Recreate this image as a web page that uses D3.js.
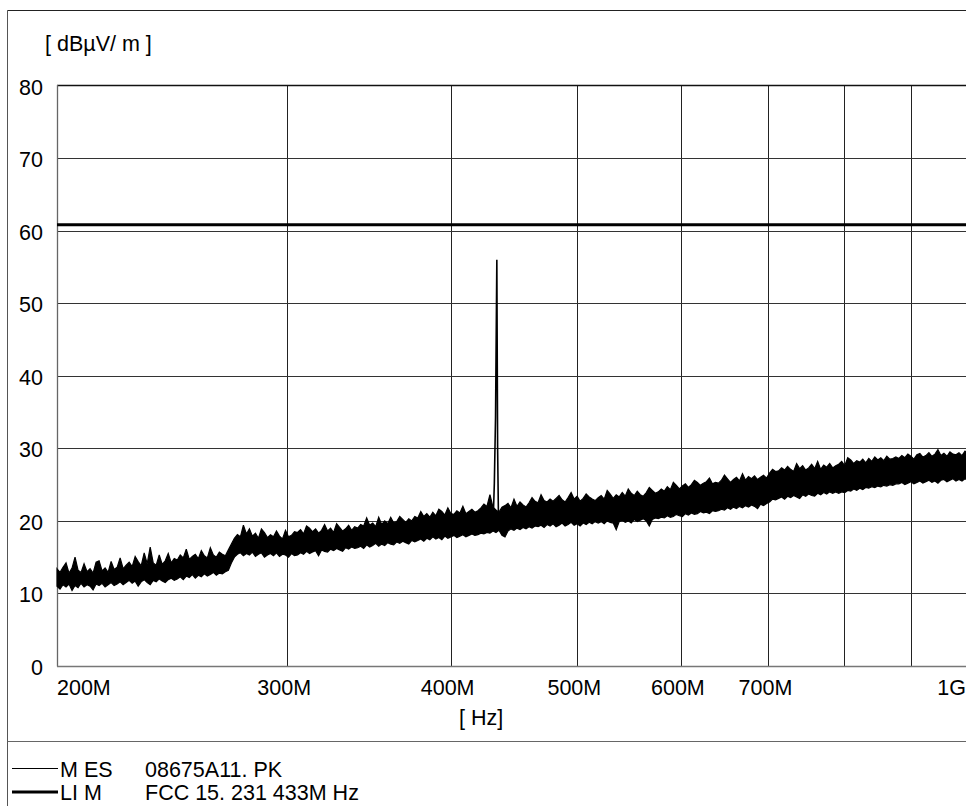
<!DOCTYPE html>
<html>
<head>
<meta charset="utf-8">
<script src="https://cdn.jsdelivr.net/npm/d3@7"></script>
<style>
  html, body { margin: 0; padding: 0; background: #fff; }
  svg { display: block; }
  text { font-family: "Liberation Sans", Arial, sans-serif; fill: #000; }
</style>
</head>
<body>
<svg id="chart" width="966" height="806"></svg>
<script>
// Sweep definition (Hz) and axis ticks
const sweepStart = 200e6;
const sweepStop = 1e9;
const xTickValues = [200e6, 300e6, 400e6, 500e6, 600e6, 700e6, 800e6, 900e6, 1e9];
const xTickLabels = ["200M", "300M", "400M", "500M", "600M", "700M", "", "", "1G"];
const yTickValues = [0, 10, 20, 30, 40, 50, 60, 70, 80];

// Peak detector trace, highest reading in each display bin (dBµV/m)
const mesMax = [
  13.4, 12.9, 13.6, 14.2, 12.8, 13.5, 15.0, 13.2, 12.9, 14.1, 13.0, 13.4, 12.8, 14.3, 14.5, 13.1, 13.5, 12.9, 14.4, 13.3,
  13.6, 14.9, 13.4, 13.9, 14.3, 13.7, 15.1, 14.4, 13.8, 15.6, 14.1, 16.4, 14.2, 13.9, 15.3, 14.0, 14.5, 15.5, 14.2, 14.8,
  14.6, 15.3, 14.9, 16.1, 14.7, 15.1, 15.4, 14.8, 15.9, 15.2, 14.9, 16.3, 15.3, 15.0, 15.7, 15.4, 15.2, 16.0, 16.8, 17.6,
  18.1, 17.8, 19.4, 18.2, 18.9, 17.9, 18.3, 17.6, 18.9, 18.4, 17.7, 18.1, 17.8, 18.6, 17.9, 17.5, 18.7, 17.8, 18.0, 18.5,
  18.4, 18.8, 18.2, 19.3, 19.0, 18.5, 18.9, 18.3, 18.7, 19.5, 18.6, 19.0, 18.4, 19.6, 19.1, 18.6, 18.9, 19.4, 18.7, 19.2,
  19.0, 19.5, 19.3, 20.4, 19.4, 19.7, 19.2, 20.5, 19.5, 20.0, 19.6, 20.5, 19.7, 19.9, 20.6, 20.2, 19.8, 20.3, 20.0, 20.6,
  20.4, 21.3, 20.6, 21.0, 20.5, 21.2, 20.7, 21.6, 21.3, 20.8, 21.8, 21.0, 20.9, 21.4, 21.1, 22.0, 21.0, 21.3, 21.6, 21.2,
  21.4, 21.8, 22.3, 22.0, 23.6, 21.9, 21.5, 21.2, 21.9, 22.1, 22.4, 21.8, 23.0, 22.0, 22.6, 22.2, 21.9, 22.5, 23.2, 22.7,
  22.5, 23.6, 22.8, 22.6, 23.0, 22.7, 23.1, 23.5, 22.9, 22.6, 23.2, 23.9, 23.0, 23.4, 22.7, 23.1, 23.7, 23.3, 23.0, 22.8,
  23.2, 23.5, 23.0, 24.2, 23.7, 23.1, 23.6, 23.3, 23.9, 23.4, 24.4, 23.8, 23.5, 24.1, 23.6, 23.4, 23.9, 24.6, 24.2, 23.8,
  24.0, 24.4, 24.1, 24.7, 24.3, 25.3, 24.9, 24.4, 24.8, 25.1, 24.6, 25.0, 25.6, 25.3, 24.9, 25.2, 25.4, 25.9, 25.1, 25.3,
  25.2, 25.6, 26.3, 25.8, 25.3, 25.7, 26.0, 25.5, 26.5, 25.6, 26.1, 25.8, 26.2, 25.7, 26.0, 26.3, 25.9, 26.6, 27.1, 26.8,
  26.9, 27.3, 27.0, 27.5, 27.1, 26.8, 27.9, 27.2, 27.6, 27.0, 27.3, 27.8, 27.2, 28.2, 27.1, 27.7, 27.4, 27.9, 27.3, 27.6,
  27.8, 28.2, 27.6, 28.7, 28.4, 27.9, 28.3, 28.1, 28.5, 28.0, 28.6, 28.2, 28.8, 28.4, 28.7, 28.3, 28.9, 28.5, 28.6, 28.8,
  28.6, 29.0, 28.7, 29.2, 28.9, 28.5, 29.1, 29.3, 28.8, 29.0, 29.4, 28.9, 29.2, 29.8, 29.0, 29.3, 28.9, 29.5, 29.2, 29.1,
  29.4, 29.0, 29.6, 29.2, 29.3
];

// Lowest reading in each display bin (dBµV/m)
const mesMin = [
  11.0, 10.6, 11.2, 10.9, 11.3, 10.4, 11.1, 10.8, 11.4, 10.9, 11.2, 11.0, 10.5, 11.3, 11.1, 11.4, 10.9, 11.2, 11.5, 11.1,
  11.3, 11.6, 11.2, 11.5, 11.8, 11.4, 11.7, 11.0, 11.6, 11.9, 11.5, 11.2, 11.8, 11.6, 12.0, 11.7, 11.5, 11.9, 12.1, 11.8,
  12.0, 12.3, 11.9, 12.4, 12.2, 12.6, 12.1, 12.5, 12.3, 12.7, 12.4, 12.6, 12.9, 12.5, 12.8, 12.7, 13.0, 13.2, 14.2, 15.0,
  15.4, 15.6, 15.2, 15.5, 15.3, 15.7, 15.1, 15.4, 15.6, 15.0, 15.3, 15.5, 15.2, 15.6, 15.1, 15.4, 15.3, 15.0, 15.5, 15.2,
  15.3, 15.6, 15.4, 15.8, 15.5, 15.7, 15.9, 15.2, 16.0, 15.8, 15.7, 16.1, 15.9, 16.2, 16.0, 15.8, 16.3, 16.1, 16.4, 16.2,
  16.3, 16.5, 16.2, 16.7, 16.4, 16.6, 16.9, 16.5, 16.8, 16.6, 17.0, 16.8, 16.7, 17.1, 16.9, 17.2, 17.0, 16.8, 17.3, 17.1,
  17.3, 17.5, 17.2, 17.6, 17.4, 17.8, 17.5, 17.7, 17.4, 17.9, 17.6, 17.8, 18.0, 17.7, 17.9, 18.1, 17.8, 18.0, 18.2, 18.0,
  18.1, 18.3, 18.2, 18.4, 18.3, 18.6, 18.4, 18.7, 18.0, 17.8, 18.6, 18.9, 18.7, 19.0, 18.8, 19.1, 18.9, 19.2, 19.0, 19.3,
  19.2, 19.4, 19.1, 19.5, 19.3, 19.6, 19.2, 19.4, 19.7, 19.3, 19.5, 19.8, 19.4, 19.6, 19.3, 19.7, 19.5, 19.8, 19.6, 19.9,
  19.7, 19.9, 19.6, 20.0, 19.8, 19.7, 18.8, 19.9, 20.1, 19.8, 20.0, 19.7, 20.2, 19.9, 20.1, 20.3, 20.0, 19.3, 20.2, 20.4,
  20.3, 20.5, 20.4, 20.7, 20.5, 20.6, 20.9, 20.7, 20.6, 21.0, 20.8, 21.1, 20.9, 21.0, 21.3, 21.1, 21.2, 21.0, 21.4, 21.3,
  21.4, 21.6, 21.5, 21.8, 21.6, 21.9, 21.7, 22.0, 21.8, 22.1, 21.9, 22.2, 22.0, 21.7, 22.3, 22.1, 22.4, 22.6, 23.0, 22.9,
  23.1, 23.3, 23.0, 23.4, 23.2, 23.5, 23.3, 23.1, 23.6, 23.4, 23.7, 23.5, 23.4, 23.8, 23.6, 23.9, 23.7, 24.0, 23.8, 24.0,
  23.8, 24.0, 23.9, 24.2, 24.1, 24.4, 24.2, 24.5, 24.3, 24.6, 24.5, 24.7, 24.6, 24.8, 24.7, 24.9, 24.8, 25.0, 24.9, 25.1,
  25.1, 25.3, 25.0, 25.2, 25.4, 25.1, 25.3, 25.5, 25.2, 25.4, 25.6, 25.3, 25.5, 25.2, 25.6, 25.7, 25.4, 25.6, 25.8, 25.5,
  25.7, 25.5, 25.8, 25.6, 25.9
];

// Readings around the 433.92 MHz carrier (MHz, dBµV/m)
const carrierFreqsMHz = [431.2, 432.0, 432.9, 433.9, 434.5, 435.2];
const carrierLevels = [20.5, 25.2, 34.2, 56.0, 30.0, 19.6];

// FCC 15.231 limit for spurious emissions (dBµV/m)
const limitLevel = 60.8;

// Legend rows
const legendNames = ["M ES", "LI M"];
const legendDescs = ["08675A11. PK", "FCC 15. 231 433M Hz"];

const svg = d3.select("#chart");
const plot = { left: 57, right: 971, top: 85.5, bottom: 666 };
const fontSize = 21.5;

const x = d3.scaleLog().domain([sweepStart, sweepStop]).range([plot.left, plot.right]);
const y = d3.scaleLinear().domain([0, 80]).range([plot.bottom, plot.top]);

// Display bins are spaced logarithmically between start and stop
const n = mesMax.length;
const bins = mesMax.map((v, i) => ({
  f: sweepStart * Math.pow(sweepStop / sweepStart, i / (n - 1)),
  hi: v,
  lo: mesMin[i]
}));
const carrier = carrierFreqsMHz.map((f, i) => ({ f: f * 1e6, v: carrierLevels[i] }));

// Outer frame and legend separator
svg.append("line").attr("x1", 7.5).attr("x2", 7.5).attr("y1", 10.5).attr("y2", 806)
  .attr("stroke", "#555").attr("stroke-width", 1);
svg.append("line").attr("x1", 7.5).attr("x2", 966).attr("y1", 10.5).attr("y2", 10.5)
  .attr("stroke", "#222").attr("stroke-width", 1);
svg.append("line").attr("x1", 7.5).attr("x2", 966).attr("y1", 741.5).attr("y2", 741.5)
  .attr("stroke", "#666").attr("stroke-width", 1);

// Grid
const grid = svg.append("g");
grid.selectAll(".vg").data(xTickValues.slice(1)).join("line")
  .attr("x1", d => Math.round(x(d)) + 0.5).attr("x2", d => Math.round(x(d)) + 0.5)
  .attr("y1", plot.top).attr("y2", plot.bottom)
  .attr("stroke", "#222").attr("stroke-width", 1);
grid.selectAll(".hg").data(yTickValues.slice(1, -1)).join("line")
  .attr("x1", plot.left).attr("x2", plot.right)
  .attr("y1", d => Math.round(y(d)) + 0.5).attr("y2", d => Math.round(y(d)) + 0.5)
  .attr("stroke", "#333").attr("stroke-width", 1);

// Plot frame
svg.append("line").attr("x1", plot.left).attr("x2", plot.right).attr("y1", 85.5).attr("y2", 85.5)
  .attr("stroke", "#111").attr("stroke-width", 1.3);
svg.append("line").attr("x1", 57.5).attr("x2", 57.5).attr("y1", 85).attr("y2", 666.5)
  .attr("stroke", "#666").attr("stroke-width", 1.3);
svg.append("line").attr("x1", 57).attr("x2", plot.right).attr("y1", 666.5).attr("y2", 666.5)
  .attr("stroke", "#777").attr("stroke-width", 1.5);

// Y tick labels
svg.append("g").selectAll("text").data(yTickValues).join("text")
  .attr("x", 43).attr("y", d => y(d) + 9)
  .attr("text-anchor", "end").attr("font-size", fontSize)
  .text(d => d);

// X tick labels
svg.append("g").selectAll("text").data(xTickValues).join("text")
  .attr("x", (d, i) => i === 0 ? plot.left : (i === xTickValues.length - 1 ? 966 : x(d) - 3))
  .attr("y", 695)
  .attr("text-anchor", (d, i) => i === 0 ? "start" : (i === xTickValues.length - 1 ? "end" : "middle"))
  .attr("font-size", fontSize)
  .text((d, i) => xTickLabels[i]);

// Axis titles
svg.append("text").attr("x", 45).attr("y", 51).attr("font-size", fontSize).text("[ dBµV/ m ]");
svg.append("text").attr("x", 459).attr("y", 725).attr("font-size", fontSize).text("[ Hz]");

// Limit line
svg.append("line")
  .attr("x1", plot.left).attr("x2", plot.right)
  .attr("y1", y(limitLevel)).attr("y2", y(limitLevel))
  .attr("stroke", "#000").attr("stroke-width", 3);

// Measurement trace: min/max envelope of each display bin
const band = d3.area()
  .x(d => x(d.f))
  .y0(d => y(d.lo))
  .y1(d => y(d.hi));
svg.append("path").datum(bins)
  .attr("d", band)
  .attr("fill", "#000").attr("stroke", "#000").attr("stroke-width", 1.2)
  .attr("stroke-linejoin", "miter").attr("stroke-miterlimit", 3);

// Carrier spike
const line = d3.line().x(d => x(d.f)).y(d => y(d.v));
svg.append("path").datum(carrier)
  .attr("d", line)
  .attr("fill", "none").attr("stroke", "#000").attr("stroke-width", 1.6)
  .attr("stroke-linejoin", "miter").attr("stroke-miterlimit", 30);

// Legend
const legend = svg.append("g");
const rowY = [768.5, 792];
const rowW = [1, 3];
legendNames.forEach((name, i) => {
  legend.append("line").attr("x1", 12).attr("x2", 58).attr("y1", rowY[i]).attr("y2", rowY[i])
    .attr("stroke", "#000").attr("stroke-width", rowW[i]);
  legend.append("text").attr("x", 60).attr("y", Math.round(rowY[i]) + 7.5).attr("font-size", fontSize).text(name);
  legend.append("text").attr("x", 145).attr("y", Math.round(rowY[i]) + 7.5).attr("font-size", fontSize).text(legendDescs[i]);
});
</script>
</body>
</html>
